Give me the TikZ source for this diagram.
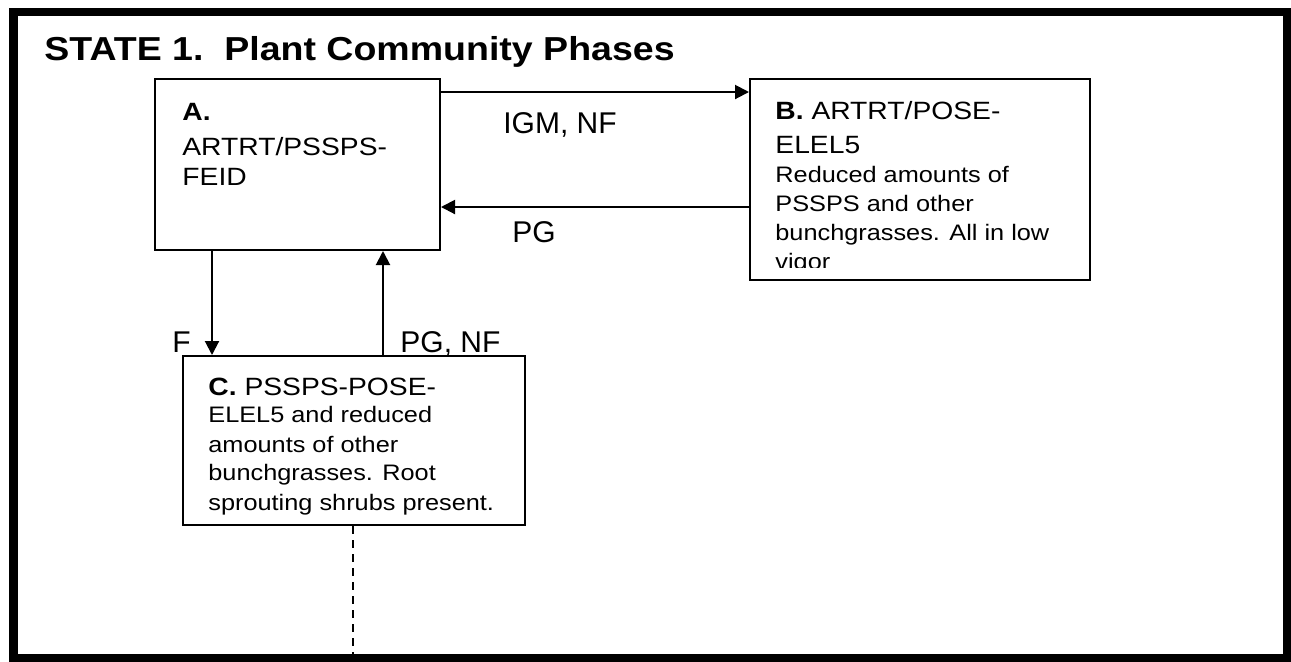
\documentclass[tikz,border=0pt]{standalone}
\usepackage{fontspec}
\setmainfont{Liberation Sans}
\newfontfamily\boxfont{Liberation Sans}[FakeStretch=1.13]
\newfontfamily\titlefont{Liberation Sans}[FakeStretch=1.13]
\usetikzlibrary{arrows.meta}
\tikzset{
  box/.style={draw=black, line width=1pt, rectangle, inner sep=0pt},
  head/.style={anchor=base west, inner sep=0pt, font=\boxfont\fontsize{12.5pt}{14pt}\selectfont},
  body/.style={anchor=base west, inner sep=0pt, font=\boxfont\fontsize{11.2pt}{13pt}\selectfont},
  lbl/.style={anchor=base west, inner sep=0pt, font=\fontsize{15pt}{17pt}\selectfont},
  arr/.style={line width=1pt, -{Triangle[length=7pt,width=7pt]}},
  frame/.style={line width=4.2pt, draw=black}
}
\begin{document}
\begin{tikzpicture}[x=0.5pt, y=-0.5pt]
\useasboundingbox (0,0) rectangle (1291,661);
\fill[white] (0,0) rectangle (1291,661);
\draw[frame] (13.5,12) rectangle (1287.5,658);
\node[anchor=base west, inner sep=0pt, font=\titlefont\bfseries\fontsize{16.6pt}{20pt}\selectfont] (title) at (44,60) {STATE 1.\ \ Plant Community Phases};

% boxes
\node[box, minimum width=142.5pt, minimum height=85.5pt] (A) at (297.5,164.5) {};
\node[box, minimum width=170pt, minimum height=100.5pt] (B) at (920,179.5) {};
\node[box, minimum width=171pt, minimum height=84.5pt] (C) at (354,440.5) {};

% box A text
\node[head] (a1) at (182,120) {\bfseries A.};
\node[head] (a2) at (182,155) {ARTRT/PSSPS-};
\node[head] (a3) at (182,185) {FEID};

% box B text
\node[head] (b1) at (775,119) {{\bfseries B.} ARTRT/POSE-};
\node[head] (b2) at (775,153) {ELEL5};
\node[body] (b3) at (775,182) {Reduced amounts of};
\node[body] (b4) at (775,211) {PSSPS and other};
\node[body] (b5) at (775,240) {bunchgrasses. All in low};
\begin{scope}
\clip (760,245) rectangle (1080,267);
\node[body] (b6) at (775,269) {vigor};
\end{scope}

% box C text
\node[head] (c1) at (208,395) {{\bfseries C.} PSSPS-POSE-};
\node[body] (c2) at (208,422) {ELEL5 and reduced};
\node[body] (c3) at (208,452) {amounts of other};
\node[body] (c4) at (208,480) {bunchgrasses. Root};
\node[body] (c5) at (208,510) {sprouting shrubs present.};

% connectors
\draw[arr] ([yshift=-7pt]A.north east) -- ([yshift=-7pt]A.north east -| B.west);
\draw[arr] ([yshift=22pt]A.south east -| B.west) -- ([yshift=22pt]A.south east);
\draw[arr] ([xshift=29pt]A.south west) -- ([xshift=29pt]A.south west |- C.north);
\draw[arr] ([xshift=-29pt]A.south east |- C.north) -- ([xshift=-29pt]A.south east);
\coordinate (dend) at (353,656);
\draw[line width=1pt, dash pattern=on 4pt off 3pt] (C.south -| dend) -- (dend);

% labels
\node[lbl] (l1) at (503,133) {IGM, NF};
\node[lbl] (l2) at (512,242) {PG};
\node[lbl] (l3) at (172,352) {F};
\node[lbl] (l4) at (400,352) {PG, NF};
\end{tikzpicture}
\end{document}
